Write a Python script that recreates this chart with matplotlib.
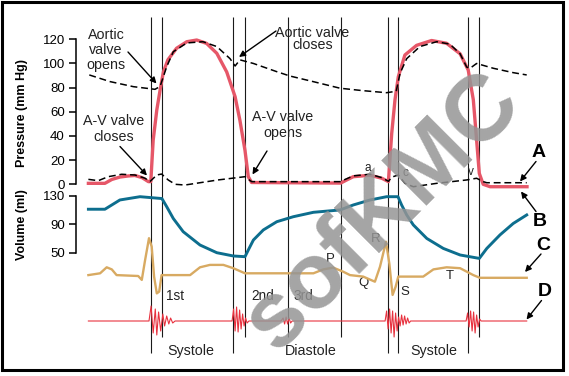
import matplotlib
matplotlib.use('Agg')
import matplotlib.pyplot as plt
from matplotlib import transforms
from matplotlib.patches import Rectangle

plt.rcParams['font.family'] = ['Liberation Sans', 'DejaVu Sans']

# ---- data, time in ms ----
# left ventricular pressure (mm Hg)
lv_t = [-2, 53, 76, 103, 131, 153, 177, 198, 206, 214, 226, 237, 248, 263, 292, 326, 359, 392,
        426, 459, 487, 503, 520, 531, 542, 839, 859, 881, 937, 976, 998, 1009, 1020, 1031, 1053,
        1092, 1142, 1192, 1237, 1264, 1281, 1292, 1301, 1314, 1337, 1460]
lv_p = [0.8, 0.8, 4, 6, 6.9, 7.3, 5.5, 2.2, 2.2, 36.6, 61.5, 78, 93, 103, 112.6, 118, 119.4, 116.6,
        108.4, 93, 72.5, 53, 28, 6.3, 1.5, 1.0, 3.6, 6.3, 7.5, 5, 2.2, 42, 70, 89, 107,
        115, 119, 116.7, 108, 94.6, 70, 36.6, 9, 0, -2, -2]

# aortic pressure (mm Hg)
ao_t = [1, 70, 148, 220, 237, 259, 281, 326, 380, 426, 470, 487, 503, 548, 626, 670, 747, 837,
        913, 992, 1024, 1037, 1059, 1103, 1159, 1203, 1237, 1259, 1270, 1292, 1348, 1414, 1459]
ao_p = [90.5, 85, 80.8, 78.6, 81, 97.3, 109.7, 117, 118, 114, 104, 97.9, 103, 100, 93.2, 89.6, 85, 79.5,
        77.5, 75.8, 77, 92, 104, 114, 118, 116, 108, 97, 96, 100, 96, 92.4, 90.5]

# left atrial pressure (mm Hg)
la_t = [-2, 31, 64, 109, 153, 187, 203, 226, 242, 264, 287, 320, 430, 520, 542, 837, 881, 937,
        976, 998, 1010, 1031, 1053, 1081, 1159, 1259, 1292, 1314, 1326, 1459]
la_p = [4.1, 3, 6.3, 8.3, 7.7, 5, 2.2, 7.7, 8.5, 3.6, 0, -0.6, 3.6, 6.3, 2.2, 2.2, 7, 8.3,
        5.5, 2.5, 6, 7.7, 0.8, -2, 0.8, 3.6, 5, 2.2, 1.3, 1.3]

# ventricular volume (ml)
vol_t = [-2, 53, 103, 170, 243, 259, 281, 314, 370, 426, 481, 520, 531, 548, 581, 626, 681,
         748, 837, 881, 937, 992, 1030, 1042, 1059, 1081, 1126, 1181, 1237, 1301, 1326, 1370,
         1414, 1459]
vol_ml = [111, 111, 124, 128.6, 126, 114.6, 98, 79.5, 60.8, 50, 45.4, 44.4, 53.8, 67.8, 81.9, 93.5, 100.5,
          106.7, 110, 117, 124, 128.6, 128.6, 117, 103, 89, 70, 56, 46.8, 42, 56, 75,
          91, 103]

# electrocardiogram (mV)
ecg_t = [-2, 37, 59, 76, 92, 164, 176, 187, 200, 209, 217, 226, 234, 242, 337, 370, 403, 448,
         481, 520, 748, 781, 814, 848, 870, 914, 953, 970, 990, 1001, 1012, 1022, 1031, 1114,
         1148, 1192, 1237, 1281, 1303, 1459]
ecg_mv = [0.03, 0.09, 0.29, 0.22, 0.03, 0, -0.13, 0.53, 1.26, 0.98, -0.02, -0.58, -0.52, 0.03, 0.03, 0.29, 0.37, 0.37,
          0.26, 0.09, 0.09, 0.22, 0.28, 0.14, 0.03, -0.02, -0.19, 0.31, 1.14, 0.42, -0.63, -0.36, -0.02, -0.02,
          0.22, 0.29, 0.26, 0.03, -0.06, -0.06]

# phonocardiogram (arbitrary units)
phono_t = [-2,
           200, 207, 214, 221, 226, 232, 239, 246, 252, 259, 266, 272, 279, 287,
           477, 482, 487, 492, 497, 502, 507, 512, 517, 522, 527, 533,
           640, 647, 652, 657, 662, 667, 672, 677,
           987, 992, 997, 1002, 1007, 1012, 1017, 1022, 1027, 1032, 1037, 1042, 1047, 1052,
           1057, 1062, 1067, 1072,
           1257, 1262, 1267, 1272, 1277, 1282, 1287, 1292, 1297, 1302, 1307,
           1459]
phono_a = [0,
           0, 15, -12, 12, -14, 9, -10, 7, -5, 5, -3, 3, -2, 0,
           0, 12, -10, 14, -11, 11, -8, 7, -5, 3, -2, 0,
           0, 3, -3, 4, -3, 3, -2, 0,
           0, 10, -8, 12, -12, 10, -16, 8, -10, 4, -5, 6, -4, 5,
           -3, 3, -2, 0,
           0, 8, -6, 10, -10, 9, -12, 6, -6, 2, 0,
           0]

# valve / phase events
event_t = [206, 243, 481, 521, 663, 839, 996, 1030, 1264, 1301]
event_long = [True, False, True, False, False, False, True, True, True, False]

pressure_ticks = [0, 20, 40, 60, 80, 100, 120]
volume_ticks = [50, 90, 130]

RED = '#e65768'
TEAL = '#0d6e8e'
TAN = '#d8aa62'
PHONO = '#e8323f'

W, H = 569, 376
X0, X1 = 76, 540
T0, T1 = -43.3, 1503.3

fig = plt.figure(figsize=(W / 100, H / 100), dpi=100)

ax_o = fig.add_axes([0, 0, 1, 1], zorder=0)
ax_o.set_xlim(0, W)
ax_o.set_ylim(H, 0)
ax_o.axis('off')


def panel(top, bottom, ylim, spine=True):
    ax = fig.add_axes([X0 / W, 1 - bottom / H, (X1 - X0) / W, (bottom - top) / H], zorder=1)
    ax.set_xlim(T0, T1)
    ax.set_ylim(*ylim)
    ax.patch.set_visible(False)
    for s in ('top', 'right', 'bottom'):
        ax.spines[s].set_visible(False)
    ax.set_xticks([])
    if spine:
        ax.spines['left'].set_linewidth(1.1)
        ax.tick_params(axis='y', direction='out', length=5, width=1.1, labelsize=9.5, pad=3)
    else:
        ax.spines['left'].set_visible(False)
        ax.set_yticks([])
    return ax


ax_p = panel(39.3, 184.3, (0, 120))
ax_p.set_yticks(pressure_ticks)
ax_p.spines['left'].set_bounds(0, 120)

ax_v = panel(195.7, 252.7, (50, 130))
ax_v.set_yticks(volume_ticks)
ax_v.spines['left'].set_bounds(50, 130)

ax_e = panel(246, 306, (-1, 1), spine=False)
ax_s = panel(305, 337, (-16, 16), spine=False)

# event lines, x in time, y in pixels
tr = transforms.blended_transform_factory(ax_p.transData, ax_o.transData)
bottoms = [353 if long_ else 337 for long_ in event_long]
ax_o.vlines(event_t, 17, bottoms, transform=tr, color='#1a1a1a', lw=0.8)

ax_p.plot(lv_t, lv_p, color=RED, lw=2.4, clip_on=False, solid_joinstyle='round')
ax_p.plot(ao_t, ao_p, color='black', lw=1.1, dashes=(4.5, 2.5), clip_on=False)
ax_p.plot(la_t, la_p, color='black', lw=1.1, dashes=(4.5, 2.5), clip_on=False)
ax_v.plot(vol_t, vol_ml, color=TEAL, lw=2.1, clip_on=False, solid_joinstyle='round')
ax_e.plot(ecg_t, ecg_mv, color=TAN, lw=1.7, clip_on=False, solid_joinstyle='round')
ax_s.plot(phono_t, phono_a, color=PHONO, lw=0.8, clip_on=False)

# axis titles
fig.text(21.7 / W, 1 - 113 / H, 'Pressure (mm Hg)', rotation=90, ha='center', va='center',
         fontsize=9, fontweight='bold')
fig.text(21.7 / W, 1 - 225 / H, 'Volume (ml)', rotation=90, ha='center', va='center',
         fontsize=9, fontweight='bold')

# annotations (pixel positions)
txt = dict(ha='center', va='center', fontsize=10.3, color='#222222')
ax_o.text(106, 50, 'Aortic\nvalve\nopens', linespacing=1.12, **txt)
ax_o.text(114, 129, 'A-V valve\ncloses', linespacing=1.12, **txt)
ax_o.text(312.5, 39, 'Aortic valve\ncloses', linespacing=0.82, **txt)
ax_o.text(283, 125, 'A-V valve\nopens', linespacing=1.12, **txt)

arrow = dict(arrowstyle='-|>', color='black', lw=1.0, mutation_scale=9, shrinkA=0, shrinkB=0)
for tail, tip in [((128, 52), (156.5, 83.5)), ((120, 146.5), (147, 175.5)),
                  ((276, 31), (239, 57)), ((267, 151), (252.5, 174.5)),
                  ((536, 161.5), (520, 181.5)), ((536, 211.5), (521, 191.5)),
                  ((541, 254), (525, 272)), ((541.5, 300.5), (526.5, 319.5))]:
    ax_o.annotate('', xy=tip, xytext=tail, arrowprops=arrow)

small = dict(ha='center', va='center', color='#222222')
for s, x, y, fs in [('a', 367.7, 168.3, 8.5), ('c', 405.3, 172.5, 8.5), ('v', 470.7, 172, 8.5),
                    ('P', 330, 259.3, 9.5), ('R', 375.7, 239.3, 9.5), ('Q', 363.3, 283.3, 9.5),
                    ('S', 405.3, 292.3, 9.5), ('T', 449.3, 276, 9.5),
                    ('1st', 175, 296, 9.8), ('2nd', 262.3, 296, 9.8), ('3rd', 303.5, 296, 9.8),
                    ('Systole', 191.3, 351.3, 10.3), ('Diastole', 311.3, 351.3, 10.3),
                    ('Systole', 433.8, 351.3, 10.3)]:
    ax_o.text(x, y, s, fontsize=fs, **small)

for s, x, y in [('A', 538.3, 152.5), ('B', 539.5, 221.7), ('C', 543, 245), ('D', 544.5, 291.7)]:
    ax_o.text(x, y, s, ha='center', va='center', fontsize=14, fontweight='bold', color='black')

# watermark
fig.text(383 / W, 1 - 212 / H, 'sofKMC', rotation=45, rotation_mode='anchor',
         ha='center', va='center', fontsize=67, fontweight='bold', color='#959595',
         alpha=0.85, zorder=5)

fig.add_artist(Rectangle((1.5 / W, 1 - 370 / H), 561.5 / W, 368.5 / H, transform=fig.transFigure,
                         fill=False, ec='black', lw=2.2))

fig.savefig('out.png', dpi=100)
